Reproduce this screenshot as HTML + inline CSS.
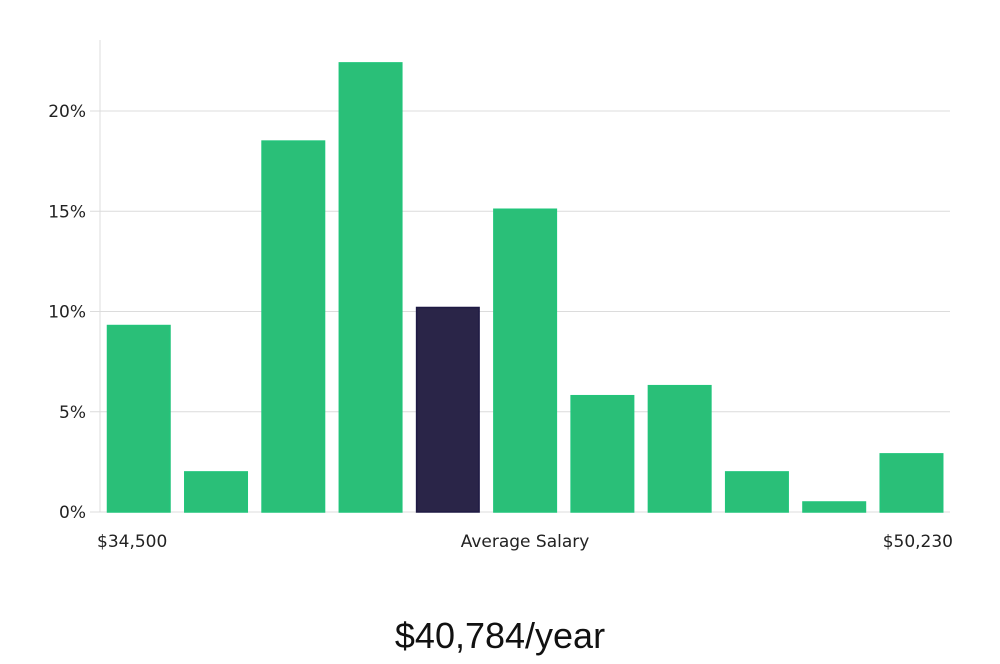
<!DOCTYPE html>
<html><head><meta charset="utf-8"><style>
body{margin:0;background:#fff;width:1000px;height:660px;overflow:hidden;font-family:"DejaVu Sans","Liberation Sans",sans-serif}
</style></head><body>
<svg id="chart" width="1000" height="660" xmlns="http://www.w3.org/2000/svg"></svg>
<script>
const categories=["b1","b2","b3","b4","b5","b6","b7","b8","b9","b10","b11"];
const values=[9.3,2.0,18.5,22.4,10.2,15.1,5.8,6.3,2.0,0.5,2.9];
const highlight=[false,false,false,false,true,false,false,false,false,false,false];
const yTicks=[0,5,10,15,20];
const yTickLabels=["0%","5%","10%","15%","20%"];
const xLabels=["$34,500","Average Salary","$50,230"];
const ns="http://www.w3.org/2000/svg";
const svg=document.getElementById("chart");
const L=100,R=950,B=512,T=40,perUnit=(512-111)/20;
const y=v=>B-v*perUnit;
const band=(R-L)/categories.length;
const x=i=>L+i*band;
function mk(t,a){const e=document.createElementNS(ns,t);for(const k in a)e.setAttribute(k,a[k]);svg.appendChild(e);return e;}
yTicks.forEach((t,i)=>{
 const g=mk("line",{x1:90,x2:R,y1:y(t),y2:y(t),stroke:"#dcdcdc","stroke-width":1});
 
 
 const tx=mk("text",{x:86,y:y(t)+6,"text-anchor":"end","font-size":17,fill:"#222"});
 tx.textContent=yTickLabels[i];
 
 
});
const ax=mk("line",{x1:L,x2:L,y1:T,y2:B,stroke:"#dcdcdc","stroke-width":1});


values.forEach((v,i)=>{
 const r=mk("rect",{x:x(i)+7.5,y:y(v),width:62.5,height:B-y(v),fill:highlight[i]?"#2a2548":"#2abf78",stroke:highlight[i]?"#1e1a44":"#22c47a","stroke-width":1.5});
 
 
});
const xl=[[97,"start"],[525,"middle"],[953,"end"]];
xLabels.forEach((s,i)=>{
 const t=mk("text",{x:xl[i][0],y:547,"text-anchor":xl[i][1],"font-size":17,fill:"#222"});
 t.textContent=s;
 
 
});
const h=mk("text",{x:500,y:648,"text-anchor":"middle","font-size":36,fill:"#111","font-family":"Liberation Sans Narrow, Liberation Sans, sans-serif"});
h.textContent="$40,784/year";


</script>
</body></html>
